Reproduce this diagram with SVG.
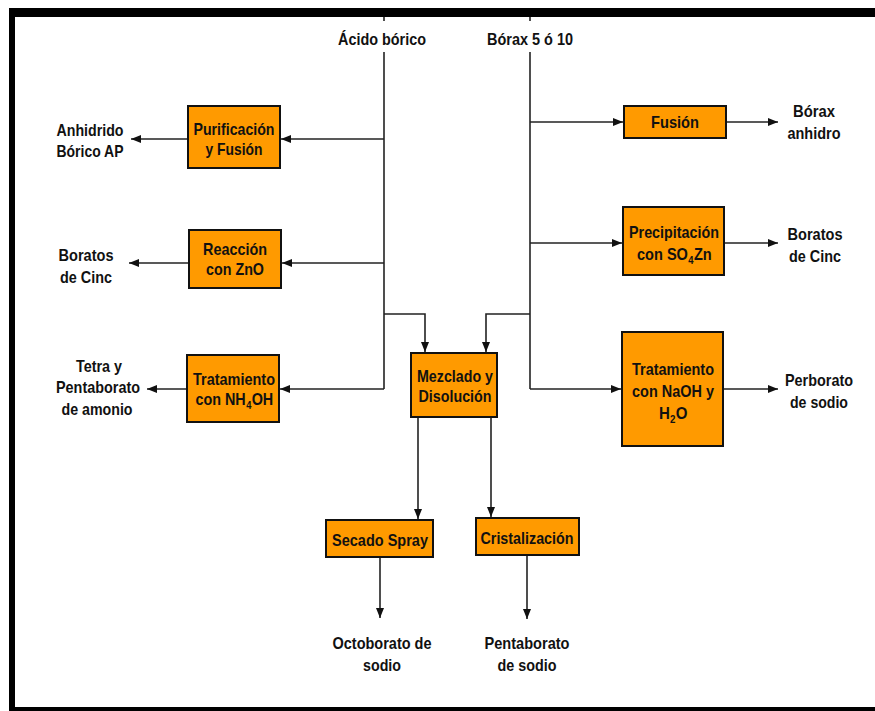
<svg xmlns="http://www.w3.org/2000/svg" width="875" height="711" viewBox="0 0 875 711">
  <style>
    .box { fill: #FF9A00; stroke: #111; stroke-width: 2; }
    .t { font-family: "Liberation Sans Narrow", "Liberation Sans", Arial, sans-serif; font-weight: bold; font-size: 17px; fill: #111; text-anchor: middle; }
    .f { font-family: "Liberation Sans", Arial, sans-serif; font-weight: bold; font-size: 17px; fill: #111; text-anchor: start; }
    .sub { font-size: 11px; }
    .wire { fill: none; stroke: #222; stroke-width: 1.6; }
    .arr { fill: none; stroke: #222; stroke-width: 1.6; marker-end: url(#head); }
  </style>
  <defs>
    <marker id="head" markerUnits="userSpaceOnUse" markerWidth="10" markerHeight="10" viewBox="0 0 10 10" refX="10" refY="5" orient="auto">
      <path d="M0,1 L10,5 L0,9 Z" fill="#111"/>
    </marker>
  </defs>

  <rect width="875" height="711" fill="#fff"/>

  <!-- frame -->
  <g id="frame" fill="#000">
    <rect x="9" y="8" width="866" height="9"/>
    <rect x="9" y="8" width="6" height="703"/>
    <rect x="9" y="707" width="866" height="4"/>
  </g>

  <!-- connectors -->
  <g id="connectors">
    <!-- Ácido bórico feed -->
    <line class="wire" x1="384" y1="17" x2="384" y2="21"/>
    <polyline class="wire" points="384,52 384,389"/>
    <line class="arr" x1="384" y1="139" x2="281" y2="139"/>
    <line class="arr" x1="384" y1="263" x2="282" y2="263"/>
    <line class="arr" x1="384" y1="389" x2="280" y2="389"/>
    <polyline class="arr" points="384,314 425,314 425,352"/>
    <!-- Bórax feed -->
    <line class="wire" x1="530" y1="17" x2="530" y2="21"/>
    <polyline class="wire" points="530,52 530,389"/>
    <line class="arr" x1="530" y1="122" x2="623" y2="122"/>
    <line class="arr" x1="530" y1="243" x2="622" y2="243"/>
    <line class="arr" x1="530" y1="389" x2="621" y2="389"/>
    <polyline class="arr" points="530,314 486,314 486,352"/>
    <!-- Mezclado outlets -->
    <line class="arr" x1="418" y1="417" x2="418" y2="519"/>
    <line class="arr" x1="491" y1="417" x2="491" y2="517"/>
    <!-- products -->
    <line class="arr" x1="188" y1="139" x2="131" y2="139"/>
    <line class="arr" x1="189" y1="263" x2="129" y2="263"/>
    <line class="arr" x1="187" y1="389" x2="147" y2="389"/>
    <line class="arr" x1="726" y1="122" x2="778" y2="122"/>
    <line class="arr" x1="724" y1="243" x2="778" y2="243"/>
    <line class="arr" x1="723" y1="389" x2="778" y2="389"/>
    <line class="arr" x1="380" y1="557" x2="380" y2="618"/>
    <line class="arr" x1="527" y1="555" x2="527" y2="619"/>
  </g>

  <!-- feed labels -->
  <g id="acido">
    <text class="t" x="382" y="45" textLength="88" lengthAdjust="spacingAndGlyphs">Ácido bórico</text>
  </g>
  <g id="borax">
    <text class="t" x="530" y="45" textLength="86" lengthAdjust="spacingAndGlyphs">Bórax 5 ó 10</text>
  </g>

  <!-- process boxes -->
  <g id="purificacion">
    <rect class="box" x="188" y="106" width="92" height="62"/>
    <text class="t" x="234" y="135" textLength="81" lengthAdjust="spacingAndGlyphs">Purificación</text>
    <text class="t" x="234" y="155" textLength="57" lengthAdjust="spacingAndGlyphs">y Fusión</text>
  </g>
  <g id="reaccion">
    <rect class="box" x="189" y="230" width="92" height="58"/>
    <text class="t" x="235" y="255" textLength="64" lengthAdjust="spacingAndGlyphs">Reacción</text>
    <text class="t" x="235" y="275" textLength="58" lengthAdjust="spacingAndGlyphs">con ZnO</text>
  </g>
  <g id="tratamiento-nh4oh">
    <rect class="box" x="187" y="355" width="92" height="67"/>
    <text class="t" x="234" y="385" textLength="82" lengthAdjust="spacingAndGlyphs">Tratamiento</text>
    <!-- formula lines: pieces laid out in a condensed local frame -->
    <g transform="translate(195.5,405) scale(0.845,1)">
      <text class="f" x="0" y="0">con NH</text>
      <text class="f sub" x="60" y="4">4</text>
      <text class="f" x="66.5" y="0">OH</text>
    </g>
  </g>
  <g id="mezclado">
    <rect class="box" x="411" y="353" width="86" height="64"/>
    <text class="t" x="455" y="382" textLength="76" lengthAdjust="spacingAndGlyphs">Mezclado y</text>
    <text class="t" x="455" y="402" textLength="73" lengthAdjust="spacingAndGlyphs">Disolución</text>
  </g>
  <g id="secado">
    <rect class="box" x="326" y="520" width="107" height="37"/>
    <text class="t" x="380" y="546" textLength="96" lengthAdjust="spacingAndGlyphs">Secado Spray</text>
  </g>
  <g id="cristalizacion">
    <rect class="box" x="476" y="518" width="103" height="37"/>
    <text class="t" x="527" y="544" textLength="93" lengthAdjust="spacingAndGlyphs">Cristalización</text>
  </g>
  <g id="fusion">
    <rect class="box" x="624" y="106" width="102" height="32"/>
    <text class="t" x="675" y="128" textLength="48" lengthAdjust="spacingAndGlyphs">Fusión</text>
  </g>
  <g id="precipitacion">
    <rect class="box" x="623" y="207" width="101" height="68"/>
    <text class="t" x="674" y="238" textLength="90" lengthAdjust="spacingAndGlyphs">Precipitación</text>
    <g transform="translate(637,260) scale(0.856,1)">
      <text class="f" x="0" y="0">con SO</text>
      <text class="f sub" x="60" y="4">4</text>
      <text class="f" x="66.5" y="0">Zn</text>
    </g>
  </g>
  <g id="tratamiento-naoh">
    <rect class="box" x="622" y="332" width="101" height="114"/>
    <text class="t" x="673" y="375" textLength="82" lengthAdjust="spacingAndGlyphs">Tratamiento</text>
    <text class="t" x="673" y="397" textLength="82" lengthAdjust="spacingAndGlyphs">con NaOH y</text>
    <g transform="translate(659,419) scale(0.886,1)">
      <text class="f" x="0" y="0">H</text>
      <text class="f sub" x="12.5" y="4">2</text>
      <text class="f" x="19" y="0">O</text>
    </g>
  </g>

  <!-- products -->
  <g id="anhidrido">
    <text class="t" x="90" y="136" textLength="67" lengthAdjust="spacingAndGlyphs">Anhidrido</text>
    <text class="t" x="90" y="157" textLength="67" lengthAdjust="spacingAndGlyphs">Bórico AP</text>
  </g>
  <g id="boratos-izq">
    <text class="t" x="86" y="261" textLength="55" lengthAdjust="spacingAndGlyphs">Boratos</text>
    <text class="t" x="86" y="283" textLength="52" lengthAdjust="spacingAndGlyphs">de Cinc</text>
  </g>
  <g id="tetra">
    <text class="t" x="99" y="372" textLength="46" lengthAdjust="spacingAndGlyphs">Tetra y</text>
    <text class="t" x="98" y="393" textLength="84" lengthAdjust="spacingAndGlyphs">Pentaborato</text>
    <text class="t" x="97" y="415" textLength="71" lengthAdjust="spacingAndGlyphs">de amonio</text>
  </g>
  <g id="borax-anhidro">
    <text class="t" x="814" y="117" textLength="42" lengthAdjust="spacingAndGlyphs">Bórax</text>
    <text class="t" x="814" y="139" textLength="53" lengthAdjust="spacingAndGlyphs">anhidro</text>
  </g>
  <g id="boratos-der">
    <text class="t" x="815" y="240" textLength="55" lengthAdjust="spacingAndGlyphs">Boratos</text>
    <text class="t" x="815" y="262" textLength="52" lengthAdjust="spacingAndGlyphs">de Cinc</text>
  </g>
  <g id="perborato">
    <text class="t" x="819" y="386" textLength="68" lengthAdjust="spacingAndGlyphs">Perborato</text>
    <text class="t" x="819" y="408" textLength="58" lengthAdjust="spacingAndGlyphs">de sodio</text>
  </g>
  <g id="octoborato">
    <text class="t" x="382" y="649" textLength="99" lengthAdjust="spacingAndGlyphs">Octoborato de</text>
    <text class="t" x="382" y="671" textLength="38" lengthAdjust="spacingAndGlyphs">sodio</text>
  </g>
  <g id="pentaborato">
    <text class="t" x="527" y="649" textLength="85" lengthAdjust="spacingAndGlyphs">Pentaborato</text>
    <text class="t" x="527" y="671" textLength="59" lengthAdjust="spacingAndGlyphs">de sodio</text>
  </g>
</svg>
